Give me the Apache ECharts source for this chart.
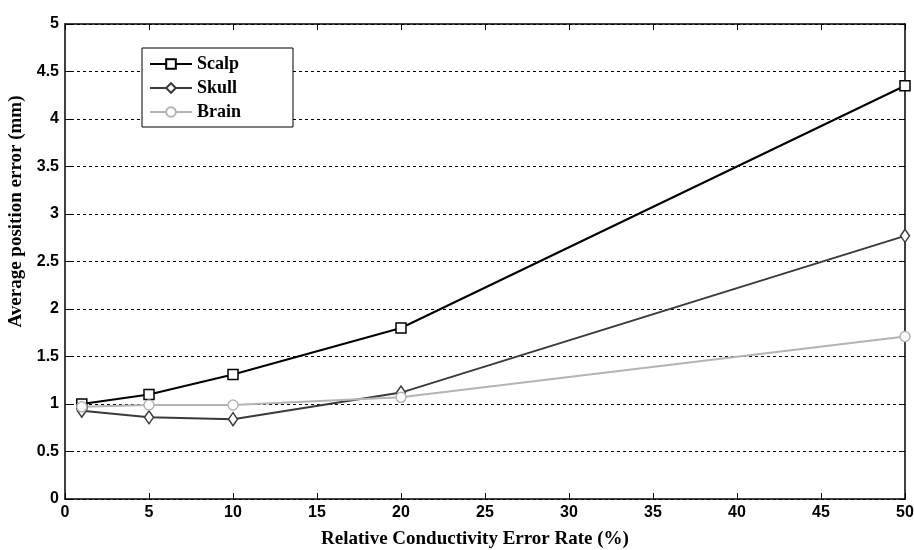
<!DOCTYPE html>
<html><head><meta charset="utf-8">
<script src="https://cdn.jsdelivr.net/npm/echarts@6/dist/echarts.min.js"></script>
<style>html,body{margin:0;padding:0;background:#fff}#c{width:914px;height:550px}</style>
</head><body><div id="c"></div>
<script>
var xValues = [1, 5, 10, 20, 50];
var scalp = [1.00, 1.10, 1.31, 1.80, 4.35];
var skull = [0.93, 0.86, 0.84, 1.12, 2.77];
var brain = [0.97, 0.99, 0.99, 1.07, 1.71];
var seriesNames = ['Scalp', 'Skull', 'Brain'];
var xTitle = 'Relative Conductivity Error Rate (%)';
var yTitle = 'Average position error (mm)';

function pairs(v){ return xValues.map(function(x,i){ return [x, v[i]]; }); }
var tickFont = {fontFamily:'Liberation Sans', fontWeight:'bold', fontSize:16, color:'#000'};
var chart = echarts.init(document.getElementById('c'));
function mk(name, data, color, symbol, size){
  return {name:name, type:'line', data:pairs(data), symbol:symbol, symbolSize:size,
    showAllSymbol:true,
    lineStyle:{color:color, width:2}, itemStyle:{color:'#fff', borderColor:color, borderWidth:1.5},
    emphasis:{disabled:true}, z: 3};
}
var frameAxis = {
  axisLine:{onZero:false, lineStyle:{color:'#000', width:1.5}},
  axisTick:{inside:true, length:6, lineStyle:{color:'#000'}},
  axisLabel:{show:false}, splitLine:{show:false}
};
chart.setOption({
  animation:false,
  backgroundColor:'#fff',
  grid:{left:65, right:9, top:24, bottom:51, containLabel:false, outerBoundsMode:'none'},
  legend:{
    orient:'vertical', left:142, top:48,
    backgroundColor:'#fff', borderColor:'#000', borderWidth:1,
    padding:[7,52,6,7], itemGap:6, itemWidth:42, itemHeight:12,
    textStyle:{fontFamily:'Liberation Serif', fontWeight:'bold', fontSize:18, color:'#000'},
    data:seriesNames
  },
  xAxis:[Object.assign({
    type:'value', min:0, max:50, interval:5,
    name:xTitle, nameLocation:'middle', nameGap:31,
    nameTextStyle:{fontFamily:'Liberation Serif', fontWeight:'bold', fontSize:19, color:'#000', padding:[0,20,0,0]}
  }, frameAxis, {axisLabel:Object.assign({margin:6}, tickFont)}),
  Object.assign({type:'value', min:0, max:50, interval:5, position:'top'}, frameAxis)],
  yAxis:[Object.assign({
    type:'value', min:0, max:5, interval:0.5,
    name:yTitle, nameLocation:'middle', nameGap:34,
    nameTextStyle:{fontFamily:'Liberation Serif', fontWeight:'bold', fontSize:19, color:'#000', padding:[0,0,0,100]}
  }, frameAxis, {axisLabel:Object.assign({margin:6}, tickFont),
    splitLine:{show:true, lineStyle:{color:'#000', type:[3,3], width:1}}}),
  Object.assign({type:'value', min:0, max:5, interval:0.5, position:'right'}, frameAxis)],
  series:[
    mk('Scalp', scalp, '#000', 'rect', 10),
    mk('Skull', skull, '#3a3a3a', 'diamond', [9,13]),
    mk('Brain', brain, '#b4b4b4', 'circle', 10)
  ]
});
</script></body></html>
